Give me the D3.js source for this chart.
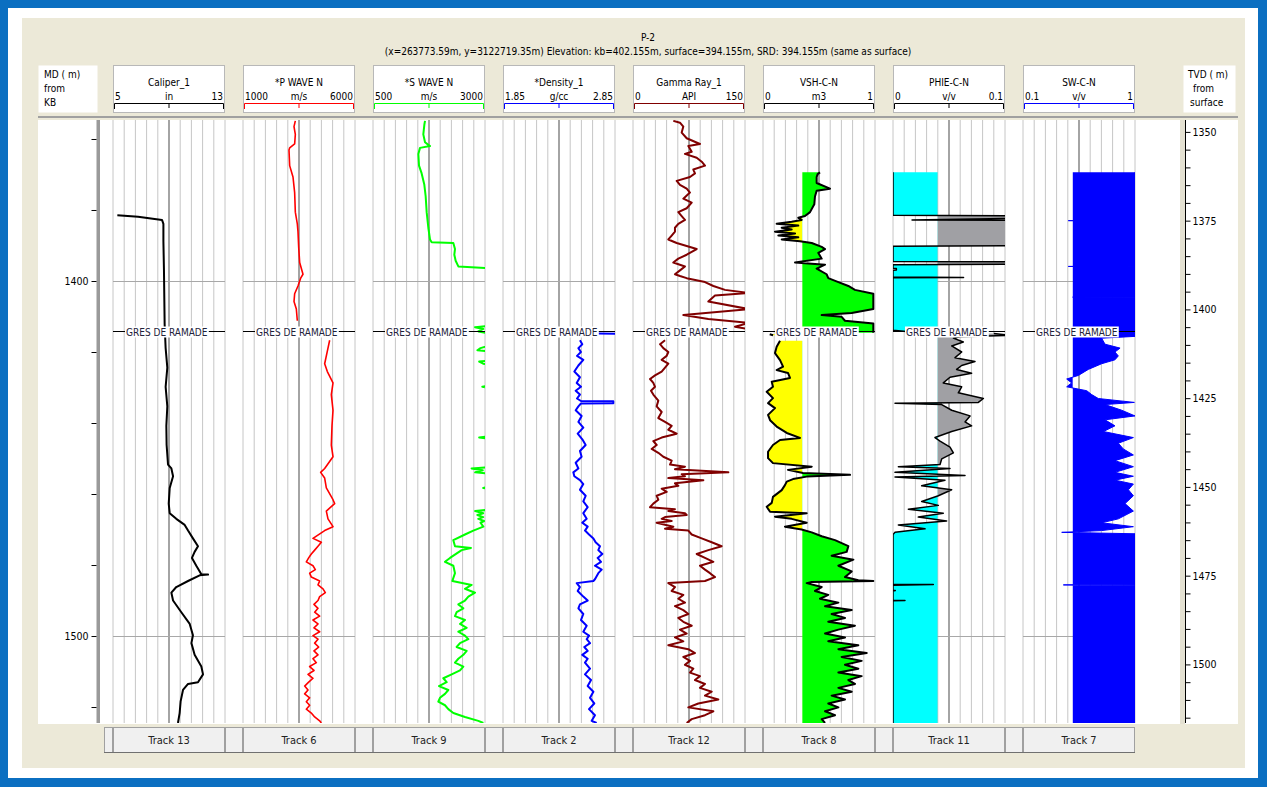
<!DOCTYPE html>
<html><head><meta charset="utf-8">
<script src="https://cdn.jsdelivr.net/npm/d3@7"></script>
<style>
body{margin:0;background:#fff;}
svg{display:block;}
text{font-family:"DejaVu Sans Condensed","DejaVu Sans",sans-serif;}
</style></head><body>
<svg id="c" width="1267" height="787"></svg>
<script>
// ---------------- DATA ----------------
const wellName = "P-2";
const wellInfo = "(x=263773.59m, y=3122719.35m) Elevation: kb=402.155m, surface=394.155m, SRD: 394.155m (same as surface)";
const kbElevation = 402.155, surfaceElevation = 394.155;
const depthRange = [1354.65, 1524.5];          // MD shown
const mdTicks = [1360,1380,1400,1420,1440,1460,1480,1500,1520];
const mdLabels = [1400,1500];
const tvdTicks = d3.range(1350, 1520, 5);
const tvdLabels = [1350,1375,1400,1425,1450,1475,1500];
const gridDepths = [1400,1500];
const formationName = "GRES DE RAMADE";
const formationMD = 1414.0;

const trackNames = ["Track 13","Track 6","Track 9","Track 2","Track 12","Track 8","Track 11","Track 7"];
const curveNames = ["Caliper_1","*P WAVE N","*S WAVE N","*Density_1","Gamma Ray_1","VSH-C-N","PHIE-C-N","SW-C-N"];
const curveUnits = ["in","m/s","m/s","g/cc","API","m3","v/v","v/v"];
const scaleMin = [5,1000,500,1.85,0,0,0,0.1];
const scaleMax = [13,6000,3000,2.85,150,1,0.1,1];
const curveColors = ["#000000","#ff0000","#00ff00","#0000ff","#800000","#000000","#000000","#0000ff"];

const vshCutoff = 0.35, phieCutoff = 0.04, swCutoff = 0.5;

// [MD, value]; null = no data
const caliper = [[1381.5,5.31],[1381.9,6.79],[1382.8,8.50],[1383.9,8.60],[1388.8,8.60],[1397.0,8.64],[1412.3,8.69],[1418.9,8.76],[1424.4,8.88],[1429.8,8.76],[1435.3,8.88],[1440.8,8.81],[1446.2,8.83],[1451.7,8.93],[1452.8,9.17],[1455.0,9.29],[1458.3,9.05],[1462.7,8.98],[1465.4,9.05],[1467.0,9.52],[1468.7,10.12],[1470.3,10.36],[1472.5,10.71],[1474.7,11.07],[1476.3,10.83],[1478.0,10.64],[1480.2,10.95],[1482.6,11.31],[1482.7,11.79],[1482.9,11.19],[1484.5,10.36],[1486.2,9.52],[1487.8,9.17],[1490.0,9.29],[1493.3,9.88],[1496.6,10.48],[1499.8,10.71],[1502.0,10.60],[1505.3,10.83],[1508.6,11.31],[1510.8,11.43],[1513.0,11.07],[1513.5,10.36],[1515.2,10.00],[1518.4,9.83],[1521.7,9.76],[1524.5,9.64]];

const pWave = [[1354.9,3336],[1356.5,3277],[1358.7,3336],[1361.4,3306],[1362.5,3083],[1363.1,3053],[1367.5,3083],[1370.7,3232],[1375.1,3306],[1380.6,3336],[1383.9,3425],[1386.1,3455],[1390.4,3485],[1394.8,3530],[1398.1,3678],[1399.2,3574],[1401.4,3455],[1403.6,3306],[1405.8,3277],[1407.9,3381],[1411.2,3425],[1414.0,null],
[1416.7,4869],[1418.9,4794],[1423.3,4646],[1425.5,4765],[1428.7,5018],[1432.0,4943],[1436.4,5018],[1440.8,4973],[1446.2,4943],[1449.5,5018],[1452.8,4646],[1453.9,4467],[1455.5,4646],[1458.3,4720],[1461.6,5018],[1462.7,5092],[1464.8,4720],[1467.0,4794],[1469.2,5018],[1470.3,4646],
[1472.5,4125],[1473.6,4497],[1474.7,4348],[1475.8,4199],[1476.9,4050],[1478.0,3931],[1479.1,3827],[1480.2,4125],[1481.3,4229],[1482.3,3976],[1483.4,4050],[1484.5,4422],[1485.6,4348],[1486.7,4571],[1487.8,4675],[1488.9,4422],[1490.0,4348],[1491.1,4169],[1492.2,4348],[1493.3,4199],[1494.4,4422],[1495.5,4125],[1496.6,4348],[1497.7,4169],[1498.8,4422],[1499.9,4125],[1500.9,4348],[1502.0,4199],[1503.1,4378],[1504.2,4169],[1505.3,4348],[1506.4,4125],[1507.5,4274],[1508.6,3976],[1509.7,4169],[1510.8,3902],[1511.9,4125],[1513.0,3931],[1514.1,3753],[1515.2,3902],[1516.3,3753],[1517.4,3976],[1518.5,3827],[1519.5,3976],[1520.6,3827],[1521.7,4050],[1522.8,4199],[1523.9,4422],[1524.5,4497]];

const sWave = [[1354.9,1661],[1356.0,1646],[1358.7,1623],[1360.9,1661],[1362.0,1772],[1362.5,1549],[1364.2,1512],[1367.5,1527],[1369.7,1586],[1372.9,1646],[1376.2,1676],[1380.6,1698],[1385.0,1735],[1388.3,1772],[1389.1,1809],[1389.3,2293],[1391.0,2330],[1392.6,2315],[1394.3,2345],[1395.9,2405],[1396.5,3200],[1412.5,3200],[1413.0,2777],[1413.5,2963],[1414.2,2850],[1415.0,3200],
[1417.8,3200],[1418.9,2900],[1419.5,2830],[1420.0,3200],[1422.2,3200],[1422.7,2870],[1423.3,2960],[1423.8,3200],[1429.2,3200],[1429.8,2940],[1430.3,3200],[1443.5,3200],[1444.1,2870],[1444.6,3200],[1452.3,3200],[1452.8,2700],[1453.3,2950],[1453.9,2780],[1454.4,3200],[1457.7,3200],[1458.3,2960],[1458.8,3200],[1464.3,3200],[1464.8,2780],[1465.4,2960],[1465.9,2830],[1466.5,2960],[1467.0,2850],[1467.6,2980],[1468.1,2900],[1469.2,2963],[1470.3,2739],[1471.4,2553],[1473.0,2293],[1474.7,2330],[1475.2,2687],[1475.8,2479],[1478.0,2219],[1479.1,2107],[1480.2,2293],[1482.3,2330],
[1484.5,2271],[1485.6,2702],[1486.7,2553],[1487.8,2777],[1488.9,2628],[1490.0,2553],[1491.1,2405],[1492.2,2516],[1493.3,2367],[1494.4,2330],[1495.5,2553],[1496.6,2442],[1497.7,2591],[1498.8,2405],[1499.9,2553],[1500.9,2628],[1502.0,2442],[1503.1,2367],[1504.2,2591],[1505.3,2516],[1506.4,2405],[1507.5,2330],[1508.6,2516],[1509.7,2442],[1510.8,2256],[1511.9,2070],[1513.0,2144],[1514.1,1973],[1515.2,2181],[1516.3,2107],[1517.4,1995],[1518.5,1958],[1519.5,2107],[1520.6,2181],[1521.7,2293],[1522.8,2553],[1523.9,2851],[1524.5,2963]];

const density = [[1414.8,2.70],[1414.85,2.90],[1415.5,null],
[1416.7,2.537],[1417.8,2.558],[1418.9,2.523],[1420.0,2.546],[1421.1,2.511],[1422.2,2.567],[1423.8,2.523],[1425.5,2.487],[1427.1,2.537],[1428.7,2.508],[1429.8,2.546],[1430.9,2.499],[1432.0,2.537],[1433.1,2.511],[1433.8,2.546],[1433.9,2.835],[1434.4,2.835],[1434.5,2.546],[1435.3,2.523],[1436.4,2.499],[1438.0,2.552],[1439.7,2.523],[1441.3,2.567],[1443.0,2.517],[1444.6,2.558],[1446.2,2.588],[1447.9,2.537],[1449.5,2.552],[1451.2,2.499],[1452.8,2.523],[1453.9,2.478],[1455.0,2.487],[1456.1,2.537],[1457.2,2.567],[1458.8,2.537],[1460.5,2.588],[1462.1,2.567],[1463.7,2.606],[1465.4,2.567],[1467.0,2.597],[1468.1,2.558],[1469.2,2.606],[1470.3,2.582],[1471.4,2.618],[1472.5,2.657],[1473.6,2.677],[1474.7,2.716],[1475.8,2.701],[1476.9,2.737],[1478.0,2.695],[1479.1,2.725],[1480.2,2.671],[1481.3,2.731],[1482.3,2.701],[1484.0,2.671],[1484.5,2.657],[1485.1,2.508],[1486.2,2.537],[1487.3,2.517],[1488.9,2.567],[1490.0,2.606],[1491.1,2.537],[1492.2,2.523],[1493.8,2.567],[1495.5,2.546],[1497.1,2.597],[1498.8,2.567],[1499.9,2.618],[1500.9,2.597],[1502.0,2.627],[1503.1,2.576],[1504.2,2.606],[1505.3,2.558],[1506.4,2.606],[1507.5,2.582],[1509.2,2.627],[1510.8,2.582],[1512.4,2.636],[1514.1,2.606],[1515.7,2.657],[1517.4,2.627],[1519.0,2.665],[1520.6,2.618],[1522.3,2.671],[1523.9,2.642],[1524.5,2.686]];

const gammaRay = [[1354.9,54.0],[1355.4,62.9],[1356.5,67.4],[1358.2,65.2],[1359.8,71.9],[1361.4,89.7],[1362.0,74.1],[1363.6,78.6],[1364.2,69.6],[1365.3,85.3],[1366.4,92.0],[1367.5,96.4],[1368.6,80.8],[1369.7,83.0],[1370.7,76.3],[1371.8,58.5],[1372.9,62.9],[1374.0,71.9],[1375.1,76.3],[1376.8,67.4],[1377.9,78.6],[1379.5,71.9],[1380.6,60.7],[1381.7,65.2],[1382.8,69.6],[1383.9,60.7],[1385.0,56.2],[1386.1,56.2],[1387.2,51.8],[1388.3,47.3],[1389.3,58.5],[1391.0,85.3],[1392.6,71.9],[1393.7,60.7],[1394.8,54.0],[1395.9,69.6],[1397.0,62.9],[1398.1,56.2],[1398.6,62.9],[1399.2,71.9],[1400.3,96.4],[1401.4,107.6],[1402.5,123.2],[1403.4,155],[1404.1,109.8],[1405.8,100.9],[1407.9,155],[1409.6,67.4],[1410.7,100.9],[1411.8,155],[1412.9,136.6],[1413.6,155],[1414.3,null],
[1416.7,42.9],[1417.8,36.2],[1418.9,40.6],[1420.0,47.3],[1421.1,45.1],[1422.2,38.4],[1423.3,47.3],[1424.4,42.9],[1425.5,38.4],[1426.6,29.5],[1427.6,22.8],[1428.7,27.2],[1429.8,29.5],[1430.9,24.1],[1432.0,27.2],[1433.7,33.9],[1435.3,31.7],[1436.9,38.4],[1438.6,33.9],[1439.7,42.9],[1440.8,51.8],[1441.9,47.3],[1443.0,58.5],[1444.1,38.4],[1445.1,27.2],[1446.2,31.7],[1447.3,25.0],[1448.4,33.9],[1449.5,40.6],[1450.6,51.8],[1451.7,49.6],[1452.3,69.6],[1453.0,56.2],[1453.9,127.7],[1454.4,65.2],[1455.0,69.6],[1455.5,47.3],[1456.1,94.2],[1457.0,56.2],[1457.7,60.7],[1458.5,38.4],[1459.4,45.1],[1460.5,31.7],[1461.6,33.9],[1462.7,27.2],[1463.7,22.8],[1464.3,56.2],[1464.8,47.3],[1465.4,69.6],[1465.9,71.9],[1466.5,42.9],[1467.0,38.4],[1467.6,51.8],[1468.1,31.7],[1469.2,54.0],[1469.8,42.9],[1470.3,74.1],[1471.4,78.6],[1472.5,92.0],[1473.6,105.4],[1474.7,118.7],[1475.8,100.9],[1476.9,85.3],[1478.0,96.4],[1479.1,107.6],[1480.2,89.7],[1481.3,96.4],[1482.3,103.1],[1483.4,109.8],[1484.5,96.4],
[1485.1,47.3],[1486.2,56.2],[1487.3,51.8],[1488.4,67.4],[1489.5,60.7],[1490.6,69.6],[1491.6,56.2],[1492.7,67.4],[1493.8,74.1],[1494.9,60.7],[1496.0,67.4],[1497.1,78.6],[1498.2,62.9],[1499.3,71.9],[1500.4,56.2],[1501.5,67.4],[1502.6,47.3],[1503.7,74.1],[1504.8,83.0],[1505.9,67.4],[1507.0,76.3],[1508.1,69.6],[1509.2,80.8],[1510.3,76.3],[1511.3,89.7],[1512.4,83.0],[1513.5,96.4],[1514.6,89.7],[1515.7,105.4],[1516.8,96.4],[1517.9,114.3],[1519.0,87.5],[1520.1,74.1],[1521.2,107.6],[1522.3,96.4],[1523.4,78.6],[1524.5,71.9]];

const vsh = [[1369.4,0.509],[1369.9,0.488],[1370.7,0.479],[1372.4,0.479],[1374.0,0.598],[1374.6,0.479],[1376.2,0.464],[1378.4,0.458],[1380.6,0.420],[1381.7,0.375],[1382.2,0.315],[1382.8,0.345],[1383.3,0.256],[1383.9,0.122],[1384.4,0.315],[1385.0,0.167],[1385.5,0.256],[1386.1,0.107],[1386.6,0.286],[1387.2,0.137],[1387.7,0.315],[1388.3,0.167],[1388.8,0.330],[1389.3,0.435],[1390.4,0.524],[1391.0,0.554],[1392.1,0.494],[1393.7,0.524],[1394.8,0.286],[1395.4,0.554],[1396.5,0.479],[1398.1,0.568],[1399.2,0.583],[1400.3,0.673],[1401.4,0.762],[1402.5,0.821],[1403.6,0.985],[1405.2,0.985],[1407.9,0.985],[1409.0,0.792],[1409.6,0.524],[1410.1,0.702],[1411.2,0.732],[1412.0,0.985],[1414.6,0.985],[1414.8,null],
[1415.0,0.06],[1415.3,0.09],[1415.6,null],
[1416.8,0.152],[1418.5,0.122],[1420.3,0.107],[1422.3,0.152],[1424.1,0.179],[1425.1,0.122],[1425.9,0.223],[1427.3,0.241],[1428.4,0.078],[1429.8,0.089],[1431.2,0.033],[1433.0,0.089],[1434.4,0.045],[1435.8,0.107],[1437.7,0.045],[1439.2,0.063],[1441.0,0.122],[1442.8,0.212],[1444.2,0.330],[1444.8,0.152],[1446.2,0.089],[1448.1,0.045],[1449.9,0.045],[1451.3,0.089],[1452.3,0.435],[1453.2,0.223],[1454.1,0.357],[1454.6,0.777],[1455.1,0.390],[1455.8,0.268],[1456.5,0.212],[1457.5,0.196],[1458.9,0.167],[1460.8,0.089],[1462.5,0.078],[1463.6,0.033],[1465.0,0.063],[1465.4,0.390],[1466.4,0.107],[1467.0,0.256],[1468.1,0.390],[1469.2,0.196],[1470.0,0.345],[1470.8,0.435],[1471.9,0.524],[1473.0,0.643],[1474.7,0.762],[1476.3,0.747],[1477.4,0.613],[1478.5,0.807],[1480.2,0.673],[1481.8,0.792],[1483.4,0.732],[1484.3,0.851],[1484.5,0.985],[1484.8,0.435],[1485.1,0.390],
[1486.2,0.524],[1487.3,0.464],[1488.4,0.583],[1489.5,0.509],[1490.6,0.673],[1491.6,0.554],[1492.7,0.792],[1493.8,0.613],[1494.9,0.732],[1496.0,0.583],[1497.1,0.821],[1498.2,0.673],[1499.3,0.554],[1500.4,0.732],[1501.5,0.583],[1502.6,0.851],[1503.7,0.673],[1504.8,0.926],[1505.9,0.702],[1507.0,0.881],[1508.1,0.732],[1509.2,0.851],[1510.3,0.673],[1511.3,0.881],[1512.4,0.762],[1513.5,0.821],[1514.6,0.673],[1515.7,0.792],[1516.8,0.613],[1517.9,0.732],[1519.0,0.583],[1520.1,0.673],[1521.2,0.554],[1522.3,0.643],[1523.4,0.524],[1524.5,0.554]];

const phie = [[1369.4,0],[1381.5,0],[1381.6,0.105],[1382.4,0.105],[1382.8,0.017],[1382.9,0.105],[1390.1,0.105],[1390.2,0],[1394.5,0],[1394.6,0.105],[1395.3,0.105],[1395.4,0],[1396.4,0],[1396.5,0.003],[1396.9,0.003],[1397.0,0],[1398.9,0],[1399.0,0.063],[1399.1,0],[1413.9,0],[1414.2,0.012],[1414.3,null],
[1414.8,0.09],[1415.3,0.105],[1415.7,0.06],[1416.1,0.0539],[1417.2,0.0628],[1418.3,0.0524],[1420.0,0.0613],[1421.6,0.0554],[1422.7,0.0732],[1423.8,0.0613],[1424.9,0.0568],[1426.0,0.0702],[1427.1,0.0509],[1428.7,0.0449],[1429.8,0.0613],[1431.5,0.0583],[1433.1,0.0807],[1434.2,0.0762],[1434.4,0.0018],[1434.8,0.0435],[1436.4,0.0524],[1438.0,0.0688],[1439.7,0.0643],[1440.8,0.0702],[1442.4,0.0524],[1444.1,0.0375],[1445.1,0.042],[1446.8,0.0509],[1448.4,0.0539],[1450.1,0.0435],[1451.7,0.042],[1452.3,0.0048],[1452.8,0.0509],[1453.9,0.0018],[1454.8,0.0643],[1455.2,0.0018],[1456.1,0.0464],[1457.7,0.0256],[1458.8,0.0524],[1460.5,0.0405],[1462.1,0.0256],[1463.2,0.0405],[1464.3,0.0137],[1465.4,0.0449],[1466.5,0.0226],[1467.6,0.0479],[1468.7,0.0048],[1469.8,0.0286],[1470.8,0.0018],[1471.4,0],[1485.4,0],[1485.5,0.036],[1485.7,0],[1487.1,0],[1487.2,0.002],[1487.3,0],[1489.9,0],[1490.0,0.0107],[1490.1,0],[1524.5,0]];

const sw = [[1369.4,1.0],[1382.95,1.0],[1383.0,0.464],[1383.05,1.0],[1395.85,1.0],[1395.9,0.464],[1395.95,1.0],[1404.5,1.0],[1404.55,0.499],[1404.6,1.0],[1415.6,1.0],[1416.1,0.732],[1417.8,0.759],[1418.9,0.880],[1420.0,0.839],[1421.1,0.866],[1422.2,0.839],[1423.3,0.732],[1424.9,0.625],[1426.6,0.545],[1427.6,0.451],[1428.7,0.491],[1429.8,0.451],[1430.9,0.612],[1432.0,0.652],[1433.1,0.705],[1434.2,0.995],[1434.8,0.759],[1436.4,0.893],[1438.0,1.0],[1439.1,0.759],[1440.8,0.839],[1442.4,0.746],[1444.1,0.987],[1445.7,0.866],[1447.3,0.906],[1449.0,0.987],[1450.6,0.839],[1452.3,0.987],[1453.9,0.839],[1455.0,0.987],[1456.1,0.839],[1457.2,0.987],[1458.8,0.947],[1460.5,0.987],[1462.7,0.920],[1464.8,0.987],[1467.0,0.866],[1468.1,0.732],[1469.2,0.987],[1470.3,0.732],[1470.8,0.411],[1471.2,1.0],[1485.5,1.0],[1485.6,0.424],[1485.7,1.0],[1524.5,1.0]];

const trackData = [caliper, pWave, sWave, density, gammaRay, vsh, phie, sw];

// ---------------- LAYOUT ----------------
const W = 1267, H = 787;
const plotTop = 120, plotBottom = 723;
const trackW = 112, trackStep = 130, firstTrackX = 113;
const FS = 10;
const svg = d3.select("#c");
const defs = svg.append("defs");

// frame
svg.append("rect").attr("width",W).attr("height",H).attr("fill","#0b6fc1");
svg.append("rect").attr("x",8).attr("y",8).attr("width",1250).attr("height",770).attr("fill","#ffffff");
svg.append("rect").attr("x",22).attr("y",18).attr("width",1223).attr("height",750).attr("fill","#ece9d8");

// titles
svg.append("text").attr("x",648).attr("y",41).attr("text-anchor","middle").attr("font-size",FS).text(wellName);
svg.append("text").attr("x",648).attr("y",55).attr("text-anchor","middle").attr("font-size",FS).text(wellInfo);

// plot background
svg.append("rect").attr("x",38).attr("y",plotTop).attr("width",1200).attr("height",plotBottom-plotTop+1).attr("fill","#fff");
svg.append("rect").attr("x",1180).attr("y",plotTop).attr("width",5).attr("height",plotBottom-plotTop+1).attr("fill","#e4e1d2");
svg.append("line").attr("x1",38).attr("x2",1238).attr("y1",117).attr("y2",117).attr("stroke","#a0a0a0").attr("stroke-width",2);

const y = d3.scaleLinear().domain(depthRange).range([plotTop, plotBottom]);
const offset = kbElevation - surfaceElevation;
const yTvd = d3.scaleLinear().domain([depthRange[0]-offset, depthRange[1]-offset]).range([plotTop, plotBottom]);

// MD header
svg.append("rect").attr("x",38.5).attr("y",65.5).attr("width",59).attr("height",47).attr("fill","#fff");
[["MD ( m)",78],["from",92],["KB",106]].forEach(([t,yy]) =>
  svg.append("text").attr("x",44).attr("y",yy).attr("font-size",FS).text(t));
// TVD header
svg.append("rect").attr("x",1183.5).attr("y",65.5).attr("width",52).attr("height",47).attr("fill","#fff");
[["TVD ( m)",1188,78],["from",1193,92],["surface",1190,106]].forEach(([t,xx,yy]) =>
  svg.append("text").attr("x",xx).attr("y",yy).attr("font-size",FS).text(t));

// MD axis
svg.append("rect").attr("x",96.5).attr("y",plotTop).attr("width",3.5).attr("height",plotBottom-plotTop).attr("fill","#9a9a9a");
const mdAxis = svg.append("g").attr("transform","translate(96.5,0)")
  .call(d3.axisLeft(y).tickValues(mdTicks).tickSize(5).tickPadding(3)
    .tickFormat(d => mdLabels.includes(d) ? d : ""));
mdAxis.select(".domain").remove();
mdAxis.selectAll("text").attr("font-size",FS+0.5);

// TVD axis
const tvdAxis = svg.append("g").attr("transform","translate(1185.5,0)")
  .call(d3.axisRight(yTvd).tickValues(tvdTicks).tickSize(5).tickSizeOuter(0).tickPadding(2)
    .tickFormat(d => tvdLabels.includes(d) ? d : ""));
tvdAxis.selectAll("text").attr("font-size",FS+0.5);
tvdAxis.select(".domain").attr("d",`M0,${plotTop}V${plotBottom}`);

// tracks
trackNames.forEach((name, i) => {
  const x0 = firstTrackX + i*trackStep, x1 = x0 + trackW;
  const x = d3.scaleLinear().domain([scaleMin[i], scaleMax[i]]).range([x0, x1]);
  const col = curveColors[i];

  // header box
  svg.append("rect").attr("x",x0+0.5).attr("y",65.5).attr("width",trackW-1).attr("height",47)
    .attr("fill","#fff").attr("stroke","#b8b8b8");
  svg.append("text").attr("x",(x0+x1)/2).attr("y",86).attr("text-anchor","middle").attr("font-size",FS).text(curveNames[i]);
  svg.append("text").attr("x",x0+2).attr("y",100).attr("font-size",FS).text(String(scaleMin[i]));
  svg.append("text").attr("x",(x0+x1)/2).attr("y",100).attr("text-anchor","middle").attr("font-size",FS).text(curveUnits[i]);
  svg.append("text").attr("x",x1-2).attr("y",100).attr("text-anchor","end").attr("font-size",FS).text(String(scaleMax[i]));
  svg.append("path").attr("d",`M${x0+1.5},109V103.5H${x1-1.5}V109M${(x0+x1)/2},103.5V108`)
    .attr("fill","none").attr("stroke",col).attr("stroke-width",1);

  // grid
  const g = svg.append("g");
  d3.range(0,11).forEach(k => {
    const gx = x0 + k*trackW/10;
    g.append("line").attr("x1",gx).attr("x2",gx).attr("y1",plotTop).attr("y2",plotBottom)
      .attr("stroke", k===5 ? "#a4a4a4" : "#c6c6c6").attr("stroke-width", k===5 ? 2 : 1);
  });
  gridDepths.forEach(d => g.append("line").attr("x1",x0).attr("x2",x1).attr("y1",Math.round(y(d))+0.5).attr("y2",Math.round(y(d))+0.5)
    .attr("stroke","#a8a8a8"));

  // clip
  const cid = "clip"+i;
  defs.append("clipPath").attr("id",cid).append("rect").attr("x",x0).attr("y",plotTop).attr("width",trackW).attr("height",plotBottom-plotTop);
  const cg = svg.append("g").attr("clip-path",`url(#${cid})`);
  const data = trackData[i];
  const def = d => d[1] != null;
  const line = d3.line().defined(def).x(d => x(d[1])).y(d => y(d[0]));

  const cutFill = (cut, leftCol, rightCol) => {
    const xc = x(cut);
    const area = d3.area().defined(def).y(d => y(d[0])).x0(xc).x1(d => x(d[1]));
    const lid = "cl"+i, rid = "cr"+i;
    defs.append("clipPath").attr("id",lid).append("rect").attr("x",x0).attr("y",plotTop).attr("width",xc-x0).attr("height",plotBottom-plotTop);
    defs.append("clipPath").attr("id",rid).append("rect").attr("x",xc).attr("y",plotTop).attr("width",x1-xc).attr("height",plotBottom-plotTop);
    cg.append("path").attr("d",area(data)).attr("fill",leftCol).attr("clip-path",`url(#${lid})`);
    cg.append("path").attr("d",area(data)).attr("fill",rightCol).attr("clip-path",`url(#${rid})`);
  };

  let lw = 2;
  if (i === 5) cutFill(vshCutoff, "#ffff00", "#00ff00");
  if (i === 6) { cutFill(phieCutoff, "#00ffff", "#a0a0a4"); lw = 1.5; }
  if (i === 7) { cutFill(swCutoff, "#0000ff", "#0000ff"); lw = 1; }
  if (i === 1) lw = 1.6;
  cg.append("path").attr("d",line(data)).attr("fill","none").attr("stroke",col)
    .attr("stroke-width",lw).attr("stroke-linejoin","round");

  // formation top
  const fy = Math.round(y(formationMD)) + 0.5;
  svg.append("line").attr("x1",x0).attr("x2",x1).attr("y1",fy).attr("y2",fy).attr("stroke","#000");
  const ft = svg.append("text").attr("x",x0+13).attr("y",fy+4).attr("font-size",FS).attr("fill","#22223a").text(formationName);
  const bb = ft.node().getBBox();
  svg.insert("rect", () => ft.node()).attr("x",bb.x-1).attr("y",bb.y).attr("width",bb.width+2).attr("height",bb.height).attr("fill","#fff");
});

// bottom track buttons
const btnTop = 727, btnH = 26;
const btn = (bx, bw, label) => {
  svg.append("rect").attr("x",bx+0.5).attr("y",btnTop+0.5).attr("width",bw-1).attr("height",btnH-1)
    .attr("fill","#f0f0f0").attr("stroke","#a0a0a0");
  svg.append("line").attr("x1",bx).attr("x2",bx+bw).attr("y1",btnTop+btnH-0.5).attr("y2",btnTop+btnH-0.5).attr("stroke","#707070");
  if (label) svg.append("text").attr("x",bx+bw/2).attr("y",btnTop+17).attr("text-anchor","middle").attr("font-size",FS+1).attr("fill","#222").text(label);
};
btn(104, firstTrackX-104, null);
trackNames.forEach((name,i) => {
  const x0 = firstTrackX + i*trackStep;
  btn(x0, trackW, name);
  if (i < trackNames.length-1) btn(x0+trackW, trackStep-trackW, null);
});
</script>
</body></html>
